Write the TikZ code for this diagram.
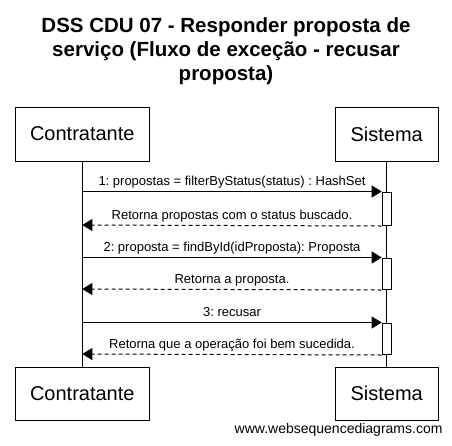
\documentclass[tikz,border=0pt]{standalone}
\usepackage{fontspec}
\setmainfont{Liberation Sans}
\usetikzlibrary{arrows.meta}
\frenchspacing
\begin{document}
\begin{tikzpicture}[x=1pt,y=-1pt,line width=1pt,
  actor/.style={draw,fill=white,inner sep=0pt,font=\fontsize{20}{24}\selectfont},
  title/.style={anchor=base,inner sep=0pt,font=\fontsize{20.5}{24}\selectfont\bfseries},
  actbox/.style={draw,fill=white,inner sep=0pt,minimum width=9pt,anchor=north},
  msg/.style={-{Triangle[length=10pt,width=12pt]}},
  ret/.style={-{Triangle[length=10pt,width=12pt]},dash pattern=on 4pt off 3pt},
  lbl/.style={anchor=base,inner sep=0pt,font=\fontsize{13}{15}\selectfont,yshift=6pt},
  wm/.style={anchor=base east,inner sep=0pt,font=\fontsize{14}{16}\selectfont}]
\useasboundingbox[fill=white] (0,0) rectangle (452,445);
% title
\node[title] (t1) at (226,32.3) {DSS CDU 07 - Responder proposta de};
\node[title] (t2) at (226,56.5) {serviço (Fluxo de exceção - recusar};
\node[title] (t3) at (226,80.5) {proposta)};
% actors
\node[actor,minimum width=134pt,minimum height=54pt] (c1) at (82.3,134) {Contratante};
\node[actor,minimum width=103pt,minimum height=54pt] (s1) at (386.7,134) {Sistema};
\node[actor,minimum width=134pt,minimum height=53pt] (c2) at (82.3,393.5) {Contratante};
\node[actor,minimum width=103pt,minimum height=53pt] (s2) at (386.7,393.5) {Sistema};
% lifelines
\draw (c1.south) -- (c2.north);
\draw (s1.south) -- (s2.north);
% activations
\node[actbox,minimum height=33.5pt] (a1) at (386.7,191.5) {};
\node[actbox,minimum height=31.5pt] (a2) at (386.7,257.5) {};
\node[actbox,minimum height=31.5pt] (a3) at (386.7,322.5) {};
% lifeline points on Contratante
\coordinate (p1) at (82.3,191.5);
\coordinate (r1) at (82.3,225);
\coordinate (p2) at (82.3,257.5);
\coordinate (r2) at (82.3,289);
\coordinate (p3) at (82.3,322.5);
\coordinate (r3) at (82.3,354);
% messages
\draw[msg] (p1) -- (a1.north west) node[lbl,midway] {1: propostas = filterByStatus(status) : HashSet};
\draw[ret] (a1.south west) -- (r1) node[lbl,midway] {Retorna propostas com o status buscado.};
\draw[msg] (p2) -- (a2.north west) node[lbl,midway] {2: proposta = findById(idProposta): Proposta};
\draw[ret] (a2.south west) -- (r2) node[lbl,midway] {Retorna a proposta.};
\draw[msg] (p3) -- (a3.north west) node[lbl,midway] {3: recusar};
\draw[ret] (a3.south west) -- (r3) node[lbl,midway] {Retorna que a operação foi bem sucedida.};
% watermark
\node[wm] (w) at (443,433) {www.websequencediagrams.com};
\end{tikzpicture}
\end{document}
